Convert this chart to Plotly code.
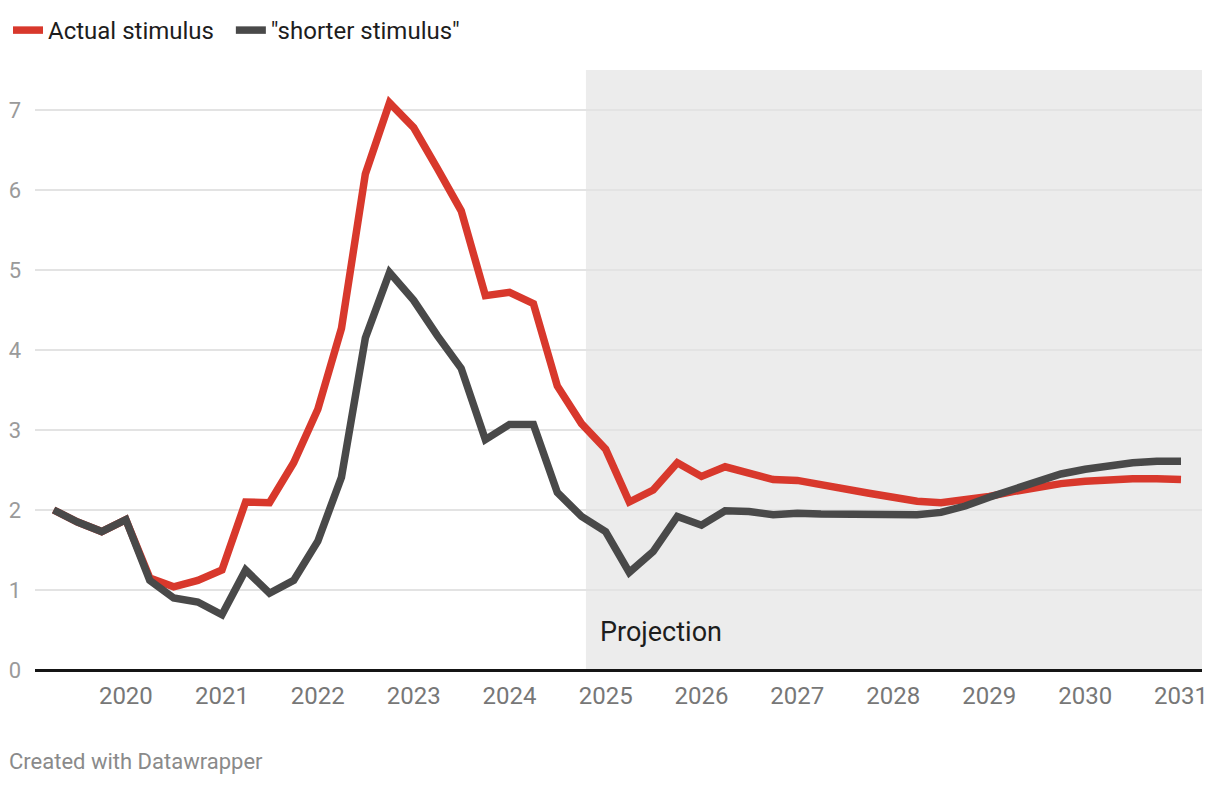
import plotly.graph_objects as go
import pandas as pd

# Quarterly dates, 2019-04 .. 2031-01
dates = pd.date_range("2019-04-01", "2031-01-01", freq="QS").strftime("%Y-%m-%d").tolist()

actual = [2.00, 1.85, 1.73, 1.88, 1.15, 1.04, 1.12, 1.25, 2.10, 2.09, 2.59, 3.26,
          4.27, 6.20, 7.09, 6.78, 6.27, 5.74, 4.68, 4.72, 4.58, 3.55, 3.08, 2.76,
          2.10, 2.25, 2.59, 2.42, 2.54, 2.47, 2.38, 2.37, 2.31, 2.26, 2.21, 2.16,
          2.11, 2.09, 2.12, 2.17, 2.23, 2.29, 2.33, 2.36, 2.38, 2.39, 2.39, 2.38]

shorter = [2.00, 1.85, 1.73, 1.88, 1.12, 0.90, 0.85, 0.69, 1.25, 0.96, 1.12, 1.61,
           2.41, 4.15, 4.97, 4.62, 4.18, 3.77, 2.88, 3.07, 3.07, 2.22, 1.92, 1.73,
           1.22, 1.48, 1.92, 1.81, 1.99, 1.98, 1.94, 1.96, 1.95, 1.95, 1.95, 1.94,
           1.94, 1.97, 2.05, 2.16, 2.26, 2.37, 2.45, 2.51, 2.56, 2.59, 2.61, 2.61]

series_names = ["Actual stimulus", '"shorter stimulus"']

year_ticks = [f"{y}-01-01" for y in range(2020, 2032)]
year_labels = [str(y) for y in range(2020, 2032)]
y_ticks = [0, 1, 2, 3, 4, 5, 6, 7]

projection_start = "2024-10-18"
x_range = ["2019-01-20", "2031-03-22"]
y_range = [0, 7.5]

RED = "#d8382c"
GRAY = "#494949"
FONT = "Roboto"

fig = go.Figure()
fig.add_trace(go.Scatter(x=dates, y=actual, mode="lines",
                         name=series_names[0] + "\u00a0\u00a0",
                         line=dict(color=RED, width=7.5)))
fig.add_trace(go.Scatter(x=dates, y=shorter, mode="lines", name=series_names[1],
                         line=dict(color=GRAY, width=7.5)))

fig.add_shape(type="rect", xref="x", yref="y", x0=projection_start, x1=x_range[1],
              y0=y_range[0], y1=y_range[1], fillcolor="#ececec", line_width=0, layer="below")

fig.add_annotation(x=projection_start, y=0.47, xref="x", yref="y", text="Projection",
                   showarrow=False, xanchor="left", yanchor="middle", xshift=12,
                   font=dict(family=FONT, size=27, color="#1d1d1d"))

fig.add_annotation(x=-0.024, y=-0.153, xref="paper", yref="paper",
                   text="Created with Datawrapper", showarrow=False,
                   xanchor="left", yanchor="middle",
                   font=dict(family=FONT, size=22, color="#8a8a8a"))

fig.update_layout(
    width=1220, height=786,
    margin=dict(l=27, r=26, t=62, b=124),
    paper_bgcolor="white", plot_bgcolor="white",
    font=dict(family=FONT),
    showlegend=True,
    legend=dict(orientation="h", xref="container", yref="container",
                x=0.0, y=1.0, xanchor="left", yanchor="top",
                font=dict(family=FONT, size=24, color="#1d1d1d"),
                itemwidth=30, tracegroupgap=0, bgcolor="rgba(0,0,0,0)"),
    xaxis=dict(type="date", range=x_range, tickvals=year_ticks, ticktext=year_labels,
               showgrid=False, zeroline=False, showline=False, ticks="",
               automargin=False,
               tickfont=dict(family=FONT, size=24, color="#777777"),
               ticklabelstandoff=9),
    yaxis=dict(range=y_range, tickvals=y_ticks, showgrid=True, gridcolor="#e3e3e3",
               gridwidth=2, zeroline=True, zerolinecolor="#151515", zerolinewidth=2.5,
               showline=False, ticks="", automargin=False,
               tickfont=dict(family=FONT, size=22, color="#9a9a9a"),
               ticklabelstandoff=13),
)

fig.write_html("out.html")
